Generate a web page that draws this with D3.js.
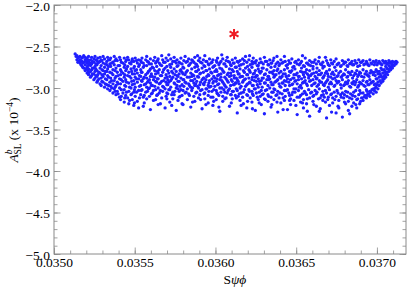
<!DOCTYPE html>
<html>
<head>
<meta charset="utf-8">
<script src="https://cdn.jsdelivr.net/npm/d3@7"></script>
<style>
  body { margin: 0; background: #fff; }
  svg { display: block; }
  text { font-family: "Liberation Serif", "DejaVu Serif", serif; fill: #000; }
</style>
</head>
<body>
<div id="chart"></div>
<script>
// ticks
const xTicks = [0.0350, 0.0355, 0.0360, 0.0365, 0.0370];
const yTicks = [-5.0, -4.5, -4.0, -3.5, -3.0, -2.5, -2.0];

// the single marked point (red star)
const starPoint = [0.036115, -2.35];

// scan points, grouped by S(psi phi): [x, [A_SL^b values in 1e-4]]
const scanColumns = [
  [0.035131, [-2.59]],
  [0.035142, [-2.61, -2.66]],
  [0.035153, [-2.63, -2.68]],
  [0.035161, [-2.62, -2.70, -2.66]],
  [0.035172, [-2.64, -2.73, -2.68]],
  [0.035184, [-2.61, -2.69, -2.76]],
  [0.035193, [-2.66, -2.72, -2.79, -2.63]],
  [0.035205, [-2.64, -2.70, -2.82, -2.75]],
  [0.035214, [-2.62, -2.68, -2.77, -2.84]],
  [0.035226, [-2.66, -2.73, -2.80, -2.87, -2.70]],
  [0.035233, [-2.63, -2.71, -2.78, -2.85]],
  [0.035247, [-2.65, -2.69, -2.83, -2.90, -2.76]],
  [0.035254, [-2.62, -2.74, -2.80, -2.88]],
  [0.035266, [-2.67, -2.72, -2.79, -2.86, -2.93]],
  [0.035271, [-2.64, -2.70, -2.84, -2.91]],
  [0.035285, [-2.63, -2.76, -2.82, -2.95, -2.68]],
  [0.035292, [-2.66, -2.73, -2.88, -2.97]],
  [0.035304, [-2.62, -2.70, -2.79, -2.86, -2.93]],
  [0.035313, [-2.65, -2.75, -2.83, -2.99]],
  [0.035327, [-2.68, -2.72, -2.90, -2.96, -2.80]],
  [0.035332, [-2.63, -2.77, -2.85, -3.01]],
  [0.035346, [-2.66, -2.71, -2.81, -2.93, -3.03]],
  [0.035351, [-2.64, -2.74, -2.88, -2.98]],
  [0.035365, [-2.69, -2.78, -2.84, -2.95, -3.06]],
  [0.035373, [-2.62, -2.72, -2.91, -3.01]],
  [0.035384, [-2.65, -2.76, -2.86, -2.97, -3.08]],
  [0.035392, [-2.67, -2.81, -2.93, -3.04]],
  [0.035406, [-2.63, -2.73, -2.89, -3.11, -3.00]],
  [0.035412, [-2.66, -2.78, -2.84, -2.95, -3.14]],
  [0.035427, [-2.70, -2.82, -2.92, -3.06]],
  [0.035435, [-2.64, -2.75, -2.87, -3.02, -3.17]],
  [0.035444, [-2.68, -2.79, -2.90, -2.98, -3.09]],
  [0.035456, [-2.63, -2.74, -2.85, -3.12]],
  [0.035463, [-2.66, -2.81, -2.94, -3.04, -3.19]],
  [0.035477, [-2.71, -2.77, -2.88, -3.00, -3.08]],
  [0.035485, [-2.65, -2.83, -2.96, -3.14]],
  [0.035494, [-2.68, -2.76, -2.91, -3.05, -3.21]],
  [0.035503, [-2.64, -2.79, -2.87, -2.99, -3.10]],
  [0.035516, [-2.70, -2.82, -2.93, -3.16]],
  [0.035524, [-2.66, -2.74, -2.89, -3.03, -3.24]],
  [0.035537, [-2.67, -2.78, -2.86, -2.97, -3.08]],
  [0.035545, [-2.64, -2.81, -2.92, -3.02]],
  [0.035553, [-2.70, -2.75, -2.89, -3.11, -3.22]],
  [0.035568, [-2.66, -2.84, -2.95, -3.05]],
  [0.035574, [-2.62, -2.73, -2.88, -2.99, -3.13]],
  [0.035585, [-2.69, -2.80, -2.91, -3.01]],
  [0.035597, [-2.65, -2.77, -2.86, -2.94, -3.26]],
  [0.035603, [-2.71, -2.83, -2.97, -3.07]],
  [0.035616, [-2.67, -2.76, -2.90, -3.03, -3.15]],
  [0.035624, [-2.63, -2.79, -2.87, -2.98]],
  [0.035636, [-2.68, -2.74, -2.93, -3.09]],
  [0.035645, [-2.65, -2.82, -2.89, -3.00, -3.20]],
  [0.035652, [-2.70, -2.78, -2.95, -3.06]],
  [0.035667, [-2.61, -2.73, -2.85, -2.92, -3.12]],
  [0.035673, [-2.66, -2.81, -2.98, -3.04]],
  [0.035688, [-2.69, -2.76, -2.88, -3.01, -3.24]],
  [0.035694, [-2.64, -2.84, -2.93, -3.10]],
  [0.035705, [-2.67, -2.79, -2.90, -2.96, -3.07]],
  [0.035717, [-2.72, -2.86, -3.02, -3.17]],
  [0.035723, [-2.65, -2.75, -2.91, -2.99]],
  [0.035736, [-2.68, -2.82, -2.87, -3.05, -3.13]],
  [0.035744, [-2.63, -2.77, -2.94, -3.08]],
  [0.035757, [-2.70, -2.80, -2.89, -3.00, -3.27]],
  [0.035762, [-2.66, -2.74, -2.85, -2.97]],
  [0.035775, [-2.69, -2.83, -2.92, -3.04, -3.11]],
  [0.035786, [-2.64, -2.78, -2.88, -3.02]],
  [0.035793, [-2.71, -2.81, -2.96, -3.09, -3.19]],
  [0.035804, [-2.67, -2.76, -2.90, -2.98]],
  [0.035812, [-2.62, -2.84, -2.93, -3.06]],
  [0.035826, [-2.68, -2.79, -2.87, -3.01, -3.14]],
  [0.035834, [-2.65, -2.73, -2.95, -3.07]],
  [0.035847, [-2.70, -2.82, -2.91, -2.99, -3.23]],
  [0.035853, [-2.66, -2.77, -2.86, -3.03]],
  [0.035866, [-2.69, -2.85, -2.94, -3.10]],
  [0.035872, [-2.63, -2.75, -2.89, -2.97, -3.16]],
  [0.035884, [-2.72, -2.80, -2.92, -3.05]],
  [0.035895, [-2.67, -2.78, -2.87, -3.00, -3.12]],
  [0.035903, [-2.64, -2.83, -2.96, -3.08]],
  [0.035917, [-2.70, -2.76, -2.90, -3.02, -3.25]],
  [0.035925, [-2.66, -2.81, -2.88, -2.95]],
  [0.035934, [-2.61, -2.74, -2.93, -3.06, -3.13]],
  [0.035946, [-2.68, -2.79, -2.86, -3.01]],
  [0.035955, [-2.71, -2.84, -2.97, -3.09, -3.18]],
  [0.035963, [-2.65, -2.77, -2.91, -2.99]],
  [0.035978, [-2.69, -2.82, -2.89, -3.04]],
  [0.035984, [-2.66, -2.75, -2.94, -3.11, -3.21]],
  [0.035996, [-2.73, -2.80, -2.88, -2.98]],
  [0.036005, [-2.67, -2.78, -2.92, -3.03, -3.14]],
  [0.036013, [-2.64, -2.85, -2.96, -3.07]],
  [0.036027, [-2.70, -2.76, -2.90, -3.00, -3.28]],
  [0.036034, [-2.68, -2.83, -2.87, -3.05]],
  [0.036045, [-2.65, -2.79, -2.93, -3.10, -3.16]],
  [0.036052, [-2.71, -2.81, -2.95, -3.02]],
  [0.036066, [-2.67, -2.74, -2.89, -2.99, -3.12]],
  [0.036073, [-2.63, -2.84, -2.91, -3.06]],
  [0.036087, [-2.69, -2.77, -2.86, -3.01, -3.22]],
  [0.036094, [-2.72, -2.82, -2.97, -3.08]],
  [0.036104, [-2.66, -2.78, -2.92, -3.04, -3.13]],
  [0.036116, [-2.70, -2.85, -2.88, -2.96]],
  [0.036123, [-2.64, -2.75, -2.94, -3.09]],
  [0.036135, [-2.68, -2.80, -2.90, -3.03, -3.30]],
  [0.036147, [-2.73, -2.83, -2.95, -3.07]],
  [0.036152, [-2.67, -2.77, -2.87, -3.00, -3.15]],
  [0.036168, [-2.65, -2.86, -2.93, -3.11]],
  [0.036173, [-2.71, -2.79, -2.91, -3.05, -3.19]],
  [0.036186, [-2.62, -2.76, -2.89, -2.98]],
  [0.036194, [-2.69, -2.84, -2.96, -3.08, -3.24]],
  [0.036207, [-2.66, -2.78, -2.88, -3.02]],
  [0.036215, [-2.72, -2.81, -2.94, -3.12]],
  [0.036226, [-2.68, -2.75, -2.90, -3.04, -3.17]],
  [0.036234, [-2.64, -2.83, -2.97, -3.09]],
  [0.036247, [-2.70, -2.79, -2.87, -3.01, -3.27]],
  [0.036253, [-2.67, -2.85, -2.92, -3.06]],
  [0.036265, [-2.73, -2.77, -2.89, -2.99, -3.14]],
  [0.036277, [-2.65, -2.82, -2.95, -3.10]],
  [0.036284, [-2.69, -2.80, -2.91, -3.03, -3.20]],
  [0.036296, [-2.71, -2.76, -2.88, -3.07]],
  [0.036303, [-2.63, -2.84, -2.94, -3.13, -3.31]],
  [0.036318, [-2.68, -2.78, -2.90, -3.02]],
  [0.036325, [-2.72, -2.86, -2.97, -3.08, -3.16]],
  [0.036336, [-2.66, -2.81, -2.89, -3.00]],
  [0.036344, [-2.70, -2.75, -2.93, -3.11, -3.23]],
  [0.036357, [-2.67, -2.83, -2.96, -3.05]],
  [0.036362, [-2.64, -2.79, -2.87, -3.01, -3.14]],
  [0.036375, [-2.71, -2.84, -2.92, -3.09]],
  [0.036386, [-2.69, -2.77, -2.90, -3.04, -3.29]],
  [0.036394, [-2.73, -2.82, -2.95, -3.12]],
  [0.036405, [-2.66, -2.80, -2.88, -2.99, -3.18]],
  [0.036413, [-2.70, -2.86, -2.94, -3.07]],
  [0.036427, [-2.62, -2.78, -2.91, -3.03, -3.15]],
  [0.036432, [-2.68, -2.83, -2.97, -3.10]],
  [0.036446, [-2.72, -2.76, -2.89, -3.02, -3.26]],
  [0.036454, [-2.67, -2.85, -2.93, -3.06]],
  [0.036465, [-2.70, -2.81, -2.90, -3.13, -3.20]],
  [0.036473, [-2.65, -2.79, -2.96, -3.08]],
  [0.036486, [-2.74, -2.84, -2.88, -3.01, -3.15]],
  [0.036492, [-2.69, -2.77, -2.92, -3.05]],
  [0.036506, [-2.71, -2.82, -2.95, -3.11, -3.32]],
  [0.036514, [-2.66, -2.86, -2.90, -3.03]],
  [0.036527, [-2.70, -2.80, -2.97, -3.09, -3.17]],
  [0.036533, [-2.68, -2.76, -2.89, -3.00]],
  [0.036545, [-2.73, -2.84, -2.93, -3.14, -3.24]],
  [0.036556, [-2.64, -2.81, -2.91, -3.06]],
  [0.036564, [-2.70, -2.78, -2.95, -3.08, -3.19]],
  [0.036577, [-2.72, -2.85, -2.88, -3.02]],
  [0.036583, [-2.67, -2.79, -2.92, -3.12, -3.34]],
  [0.036596, [-2.69, -2.83, -2.97, -3.05]],
  [0.036604, [-2.74, -2.77, -2.90, -3.10, -3.16]],
  [0.036617, [-2.66, -2.86, -2.94, -3.03]],
  [0.036625, [-2.71, -2.81, -2.89, -3.07, -3.22]],
  [0.036638, [-2.68, -2.84, -2.96, -3.13]],
  [0.036643, [-2.63, -2.79, -2.91, -3.01, -3.28]],
  [0.036657, [-2.72, -2.82, -2.93, -3.09]],
  [0.036665, [-2.69, -2.76, -2.88, -3.04, -3.15]],
  [0.036674, [-2.74, -2.85, -2.97, -3.11]],
  [0.036688, [-2.67, -2.80, -2.92, -3.06, -3.36]],
  [0.036695, [-2.70, -2.83, -2.90, -3.14]],
  [0.036706, [-2.73, -2.78, -2.95, -3.02, -3.21]],
  [0.036714, [-2.66, -2.87, -2.93, -3.08]],
  [0.036726, [-2.71, -2.81, -2.89, -3.12, -3.18]],
  [0.036735, [-2.68, -2.84, -2.98, -3.05]],
  [0.036747, [-2.65, -2.79, -2.91, -3.10, -3.30]],
  [0.036753, [-2.72, -2.86, -2.94, -3.03]],
  [0.036764, [-2.70, -2.82, -2.92, -3.15, -3.24]],
  [0.036775, [-2.74, -2.80, -2.96, -3.08]],
  [0.036786, [-2.67, -2.85, -2.90, -3.06, -3.35]],
  [0.036794, [-2.71, -2.83, -2.97, -3.12]],
  [0.036806, [-2.69, -2.78, -2.93, -3.04, -3.19]],
  [0.036815, [-2.73, -2.87, -2.95, -3.10]],
  [0.036823, [-2.66, -2.81, -2.91, -3.16, -3.27]],
  [0.036837, [-2.70, -2.84, -2.99, -3.07]],
  [0.036845, [-2.68, -2.80, -2.94, -3.13, -3.22]],
  [0.036856, [-2.72, -2.85, -2.92, -3.05, -3.18]],
  [0.036864, [-2.67, -2.82, -2.96, -3.10]],
  [0.036875, [-2.70, -2.79, -2.90, -3.14, -3.24]],
  [0.036887, [-2.66, -2.84, -2.97, -3.08]],
  [0.036893, [-2.73, -2.81, -2.93, -3.03, -3.19]],
  [0.036905, [-2.69, -2.86, -2.95, -3.12]],
  [0.036914, [-2.67, -2.78, -2.91, -3.06, -3.15]],
  [0.036926, [-2.71, -2.83, -2.98, -3.09]],
  [0.036935, [-2.68, -2.80, -2.93, -3.02, -3.12]],
  [0.036944, [-2.72, -2.85, -2.96, -3.07]],
  [0.036956, [-2.66, -2.82, -2.90, -3.04, -3.10]],
  [0.036963, [-2.70, -2.79, -2.94, -3.05]],
  [0.036977, [-2.68, -2.84, -2.92, -3.01, -3.07]],
  [0.036984, [-2.72, -2.81, -2.96, -3.03]],
  [0.036995, [-2.67, -2.78, -2.89, -2.99, -3.05]],
  [0.037006, [-2.70, -2.83, -2.93, -3.01]],
  [0.037014, [-2.68, -2.80, -2.87, -2.97]],
  [0.037025, [-2.71, -2.76, -2.85, -2.94]],
  [0.037036, [-2.67, -2.82, -2.90, -2.92]],
  [0.037045, [-2.69, -2.78, -2.86, -2.89]],
  [0.037054, [-2.68, -2.74, -2.81, -2.87]],
  [0.037066, [-2.70, -2.77, -2.84]],
  [0.037074, [-2.67, -2.73, -2.80]],
  [0.037085, [-2.69, -2.75, -2.78]],
  [0.037096, [-2.68, -2.72, -2.76]],
  [0.037107, [-2.69, -2.73]],
  [0.037118, [-2.68, -2.71]],
  [0.037124, [-2.69]]
];

// second pass of scan points, read between the columns above
const scanColumnsB = [
  [0.035137, [-2.62]],
  [0.035148, [-2.64, -2.69]],
  [0.035167, [-2.67, -2.72]],
  [0.035178, [-2.63, -2.75, -2.70]],
  [0.035198, [-2.68, -2.77]],
  [0.035209, [-2.66, -2.79, -2.73]],
  [0.035219, [-2.71, -2.81]],
  [0.035238, [-2.68, -2.76, -2.83]],
  [0.035259, [-2.66, -2.77, -2.85, -2.71]],
  [0.035278, [-2.69, -2.81, -2.89]],
  [0.035297, [-2.67, -2.78, -2.84, -2.92]],
  [0.035318, [-2.71, -2.80, -2.89, -2.95]],
  [0.035338, [-2.66, -2.74, -2.87, -2.97]],
  [0.035357, [-2.70, -2.82, -2.91, -3.00]],
  [0.035378, [-2.67, -2.79, -2.88, -2.99, -3.04]],
  [0.035397, [-2.73, -2.85, -2.95, -3.07]],
  [0.035417, [-2.69, -2.80, -2.90, -3.02, -3.10]],
  [0.035438, [-2.72, -2.84, -2.97, -3.12]],
  [0.035449, [-2.66, -2.77, -2.93, -3.05]],
  [0.035468, [-2.70, -2.86, -2.99, -3.15]],
  [0.035481, [-2.68, -2.80, -2.92, -3.07]],
  [0.035498, [-2.74, -2.83, -2.95, -3.02, -3.18]],
  [0.035511, [-2.67, -2.78, -2.89, -3.05]],
  [0.035529, [-2.72, -2.85, -2.98, -3.12]],
  [0.035541, [-2.69, -2.81, -2.91, -3.03]],
  [0.035559, [-2.73, -2.87, -2.96, -3.09, -3.18]],
  [0.035579, [-2.68, -2.82, -2.93, -3.04]],
  [0.035591, [-2.71, -2.79, -2.90, -3.00, -3.10]],
  [0.035609, [-2.75, -2.86, -2.97, -3.06]],
  [0.035629, [-2.70, -2.83, -2.92, -3.02, -3.14]],
  [0.035641, [-2.67, -2.80, -2.89, -3.08]],
  [0.035659, [-2.72, -2.85, -2.94, -3.03, -3.19]],
  [0.035679, [-2.69, -2.78, -2.91, -2.99]],
  [0.035699, [-2.74, -2.87, -2.96, -3.06, -3.13]],
  [0.035711, [-2.60, -2.82, -2.93, -3.02]],
  [0.035729, [-2.71, -2.80, -2.89, -3.08, -3.21]],
  [0.035749, [-2.68, -2.84, -2.95, -3.04]],
  [0.035768, [-2.73, -2.86, -2.92, -3.01, -3.15]],
  [0.035781, [-2.70, -2.79, -2.98, -3.10]],
  [0.035799, [-2.75, -2.83, -2.90, -3.03, -3.20]],
  [0.035818, [-2.69, -2.81, -2.94, -3.05]],
  [0.035839, [-2.72, -2.87, -2.97, -3.09]],
  [0.035858, [-2.67, -2.84, -2.91, -3.00, -3.17]],
  [0.035878, [-2.71, -2.80, -2.95, -3.06]],
  [0.035889, [-2.61, -2.74, -2.86, -2.98]],
  [0.035908, [-2.69, -2.82, -2.93, -3.03, -3.14]],
  [0.035929, [-2.73, -2.88, -2.96, -3.07]],
  [0.035941, [-2.68, -2.79, -2.90, -3.01, -3.20]],
  [0.035959, [-2.72, -2.85, -2.94, -3.04]],
  [0.035972, [-2.70, -2.81, -2.98, -3.11]],
  [0.035989, [-2.74, -2.86, -2.92, -3.02, -3.16]],
  [0.036009, [-2.69, -2.80, -2.89, -3.06]],
  [0.036021, [-2.72, -2.84, -2.95, -3.09, -3.23]],
  [0.036039, [-2.60, -2.77, -2.91, -3.00]],
  [0.036058, [-2.71, -2.87, -2.97, -3.05, -3.13]],
  [0.036079, [-2.68, -2.82, -2.93, -3.03]],
  [0.036098, [-2.73, -2.85, -2.90, -3.08, -3.18]],
  [0.036111, [-2.70, -2.80, -2.96, -3.04]],
  [0.036129, [-2.75, -2.88, -2.94, -3.01, -3.12]],
  [0.036141, [-2.69, -2.83, -2.92, -3.10]],
  [0.036159, [-2.72, -2.86, -2.98, -3.06, -3.21]],
  [0.036179, [-2.67, -2.81, -2.90, -3.02]],
  [0.036199, [-2.74, -2.84, -2.95, -3.09, -3.16]],
  [0.036211, [-2.61, -2.79, -2.93, -3.04]],
  [0.036229, [-2.71, -2.87, -2.97, -3.07, -3.25]],
  [0.036241, [-2.69, -2.82, -2.91, -3.01]],
  [0.036259, [-2.73, -2.85, -2.96, -3.11]],
  [0.036271, [-2.70, -2.80, -2.92, -3.05, -3.18]],
  [0.036289, [-2.76, -2.88, -2.99, -3.08]],
  [0.036309, [-2.68, -2.83, -2.94, -3.03, -3.14]],
  [0.036329, [-2.72, -2.86, -2.90, -3.10]],
  [0.036349, [-2.70, -2.81, -2.96, -3.05, -3.20]],
  [0.036368, [-2.74, -2.85, -2.93, -3.02]],
  [0.036381, [-2.62, -2.79, -2.91, -3.08, -3.17]],
  [0.036399, [-2.71, -2.87, -2.98, -3.06]],
  [0.036419, [-2.69, -2.83, -2.94, -3.12, -3.26]],
  [0.036438, [-2.73, -2.86, -2.92, -3.03]],
  [0.036459, [-2.70, -2.80, -2.97, -3.09, -3.15]],
  [0.036479, [-2.75, -2.88, -2.95, -3.05]],
  [0.036498, [-2.68, -2.84, -2.91, -3.01, -3.21]],
  [0.036519, [-2.72, -2.86, -2.99, -3.11]],
  [0.036539, [-2.61, -2.81, -2.94, -3.07, -3.18]],
  [0.036551, [-2.74, -2.87, -2.93, -3.04]],
  [0.036569, [-2.70, -2.83, -2.97, -3.13, -3.28]],
  [0.036589, [-2.73, -2.85, -2.91, -3.06]],
  [0.036609, [-2.69, -2.82, -2.95, -3.09, -3.20]],
  [0.036629, [-2.76, -2.88, -2.98, -3.05]],
  [0.036649, [-2.71, -2.84, -2.93, -3.12, -3.25]],
  [0.036668, [-2.74, -2.87, -2.96, -3.08]],
  [0.036681, [-2.63, -2.82, -2.94, -3.03, -3.17]],
  [0.036699, [-2.72, -2.86, -2.99, -3.11]],
  [0.036719, [-2.70, -2.83, -2.95, -3.07, -3.29]],
  [0.036739, [-2.75, -2.88, -2.97, -3.14]],
  [0.036759, [-2.71, -2.85, -2.93, -3.06, -3.22]],
  [0.036779, [-2.73, -2.87, -3.00, -3.11]],
  [0.036799, [-2.69, -2.84, -2.96, -3.08, -3.17]],
  [0.036819, [-2.74, -2.86, -2.94, -3.05]],
  [0.036831, [-2.71, -2.82, -2.98, -3.12, -3.31]],
  [0.036849, [-2.72, -2.88, -2.95, -3.09]],
  [0.036869, [-2.70, -2.83, -2.93, -3.03, -3.20]],
  [0.036881, [-2.74, -2.86, -2.99, -3.13]],
  [0.036899, [-2.69, -2.82, -2.94, -3.06, -3.16]],
  [0.036919, [-2.72, -2.87, -2.97, -3.11]],
  [0.036939, [-2.70, -2.84, -2.92, -3.04, -3.09]],
  [0.036951, [-2.73, -2.86, -2.96, -3.07]],
  [0.036969, [-2.71, -2.81, -2.93, -3.02]],
  [0.036989, [-2.69, -2.85, -2.95, -3.00]],
  [0.037001, [-2.72, -2.80, -2.89, -2.96]],
  [0.037019, [-2.70, -2.83, -2.91]],
  [0.037031, [-2.72, -2.78, -2.87]],
  [0.037049, [-2.70, -2.80, -2.84]],
  [0.037061, [-2.71, -2.76, -2.81]],
  [0.037079, [-2.70, -2.77]],
  [0.037091, [-2.71, -2.74]],
  [0.037113, [-2.70]]
];

const W = 409, H = 292;
const margin = {top: 5, right: 3, bottom: 38, left: 54};
const width = W - margin.left - margin.right;
const height = H - margin.top - margin.bottom;

const svg = d3.select('#chart')
  .append('svg')
  .attr('width', W)
  .attr('height', H);

const g = svg.append('g')
  .attr('transform', `translate(${margin.left},${margin.top})`);

const x = d3.scaleLinear().domain([0.0350, 0.03718]).range([0, width]);
const y = d3.scaleLinear().domain([-5.0, -2.0]).range([height, 0]);

const points = scanColumns.concat(scanColumnsB)
  .flatMap(([sx, ys]) => ys.map(v => ({x: sx, y: v})));

g.append('g')
  .selectAll('circle')
  .data(points)
  .enter()
  .append('circle')
  .attr('cx', d => x(d.x))
  .attr('cy', d => y(d.y))
  .attr('r', 1.65)
  .attr('fill', '#1f1fff');

// frame with inward ticks on all four sides
const frameColor = '#8a8a8a';
const xMinor = d3.range(0.0350, 0.03718, 0.0001);
const yMinor = d3.range(-5.0, -1.99, 0.1);

function styleAxis(sel) {
  sel.select('.domain').remove();
  sel.selectAll('line').attr('stroke', frameColor).attr('stroke-width', 0.8);
  sel.selectAll('text')
    .style('font-family', '"Liberation Serif", serif')
    .style('font-size', '13.5px');
}

g.append('g').attr('transform', `translate(0,${height})`)
  .call(d3.axisBottom(x).tickValues(xMinor).tickFormat('').tickSizeInner(-3.5).tickSizeOuter(0))
  .call(styleAxis);
g.append('g').attr('transform', `translate(0,${height})`)
  .call(d3.axisBottom(x).tickValues(xTicks).tickFormat(d3.format('.4f')).tickSizeInner(-6.5).tickSizeOuter(0).tickPadding(3))
  .call(styleAxis);
g.append('g')
  .call(d3.axisTop(x).tickValues(xMinor).tickFormat('').tickSizeInner(-3.5).tickSizeOuter(0))
  .call(styleAxis);
g.append('g')
  .call(d3.axisTop(x).tickValues(xTicks).tickFormat('').tickSizeInner(-6.5).tickSizeOuter(0))
  .call(styleAxis);

g.append('g')
  .call(d3.axisLeft(y).tickValues(yMinor).tickFormat('').tickSizeInner(-3.5).tickSizeOuter(0))
  .call(styleAxis);
g.append('g')
  .call(d3.axisLeft(y).tickValues(yTicks).tickFormat(d3.format('.1f')).tickSizeInner(-6.5).tickSizeOuter(0).tickPadding(4))
  .call(styleAxis)
  .selectAll('text').attr('dy', '0.4em');
g.append('g').attr('transform', `translate(${width},0)`)
  .call(d3.axisRight(y).tickValues(yMinor).tickFormat('').tickSizeInner(-3.5).tickSizeOuter(0))
  .call(styleAxis);
g.append('g').attr('transform', `translate(${width},0)`)
  .call(d3.axisRight(y).tickValues(yTicks).tickFormat('').tickSizeInner(-6.5).tickSizeOuter(0))
  .call(styleAxis);

g.append('rect')
  .attr('width', width)
  .attr('height', height)
  .attr('fill', 'none')
  .attr('stroke', frameColor)
  .attr('stroke-width', 1);

// red star
g.append('path')
  .attr('d', d3.symbol(d3.symbolAsterisk, 75)())
  .attr('transform', `translate(${x(starPoint[0])},${y(starPoint[1])})`)
  .attr('fill', 'none')
  .attr('stroke', '#ee1c24')
  .attr('stroke-width', 2);

// axis titles
svg.append('text')
  .attr('x', margin.left + x(0.03612))
  .attr('y', 284)
  .attr('text-anchor', 'middle')
  .style('font-size', '13.5px')
  .html('S<tspan font-style="italic">ψϕ</tspan>');

const yl = svg.append('text')
  .attr('transform', 'translate(18,130) rotate(-90)')
  .attr('text-anchor', 'middle')
  .style('font-size', '13.5px');
yl.append('tspan').attr('font-style', 'italic').text('A');
yl.append('tspan').attr('font-style', 'italic').attr('font-size', '9.5px').attr('dy', -6).text('b');
yl.append('tspan').attr('font-size', '9.5px').attr('dx', -5).attr('dy', 9).text('SL');
yl.append('tspan').attr('dy', -3).text(' (x 10');
yl.append('tspan').attr('font-size', '9.5px').attr('dy', -5).text('−4');
yl.append('tspan').attr('dy', 5).text(')');
</script>
</body>
</html>
